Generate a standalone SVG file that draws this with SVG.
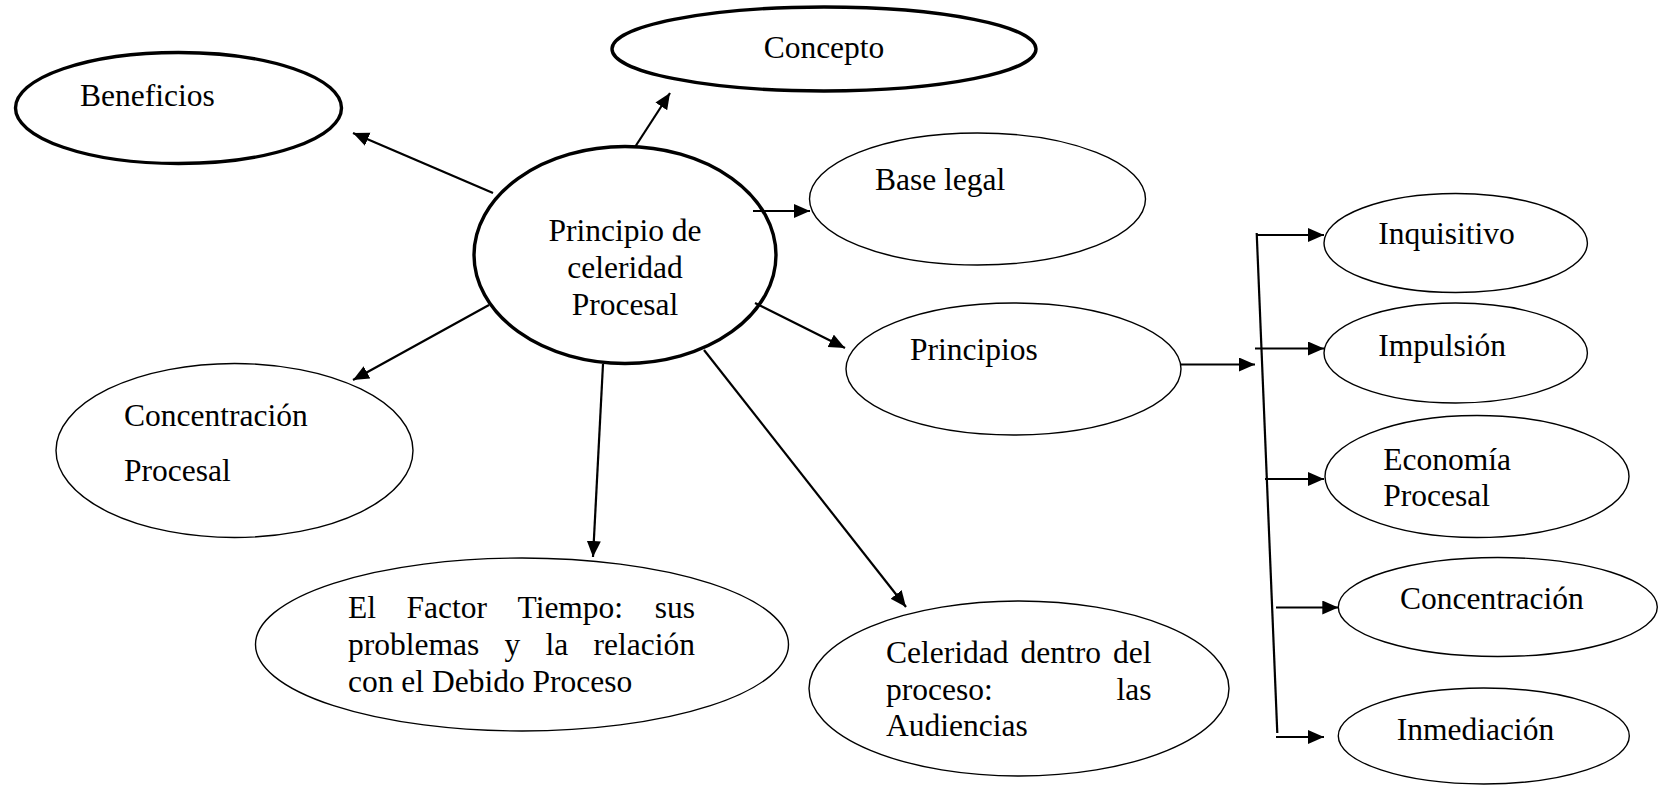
<svg xmlns="http://www.w3.org/2000/svg" width="1664" height="785" viewBox="0 0 1664 785">
<style>
.thick{fill:#fff;stroke:#000;stroke-width:3.4}
.thin{fill:#fff;stroke:#000;stroke-width:1.4}
.conn{fill:none;stroke:#000;stroke-width:2.2}
.arr{marker-end:url(#ah)}
text{font-family:"Liberation Serif","Times New Roman",serif;font-size:31.5px;fill:#000}
</style>
<defs>
<marker id="ah" markerUnits="userSpaceOnUse" markerWidth="17" markerHeight="15" refX="16" refY="7" orient="auto" viewBox="0 0 17 15">
<path d="M0,0 L16,7 L0,14 z" fill="#000"/>
</marker>
</defs>
<rect width="1664" height="785" fill="#fff"/>

<g id="n-concepto">
<ellipse class="thick" cx="824" cy="49" rx="212" ry="42"/>
<text x="824" y="58" text-anchor="middle">Concepto</text>
</g>
<g id="n-beneficios">
<ellipse class="thick" cx="178.5" cy="108" rx="163" ry="55.5"/>
<text x="80" y="106">Beneficios</text>
</g>
<g id="n-baselegal">
<ellipse class="thin" cx="977.5" cy="199" rx="168" ry="66"/>
<text x="875" y="190">Base legal</text>
</g>
<g id="n-principios">
<ellipse class="thin" cx="1013.5" cy="369" rx="167.5" ry="66"/>
<text x="910" y="360">Principios</text>
</g>
<g id="n-central">
<ellipse class="thick" cx="625" cy="255" rx="151" ry="108.5"/>
<text text-anchor="middle"><tspan x="625" y="241">Principio de</tspan><tspan x="625" y="278">celeridad</tspan><tspan x="625" y="315">Procesal</tspan></text>
</g>
<g id="n-concentracion-procesal">
<ellipse class="thin" cx="234.5" cy="450.5" rx="178.5" ry="87"/>
<text><tspan x="124" y="426">Concentración</tspan><tspan x="124" y="481">Procesal</tspan></text>
</g>
<g id="n-factor-tiempo">
<ellipse class="thin" cx="522" cy="644.5" rx="266.5" ry="86.5"/>
<text><tspan x="348" y="618">El</tspan><tspan x="406.5" y="618">Factor</tspan><tspan x="517.5" y="618">Tiempo:</tspan><tspan x="654.8" y="618">sus</tspan><tspan x="348" y="655">problemas</tspan><tspan x="504.5" y="655">y</tspan><tspan x="545.5" y="655">la</tspan><tspan x="593.5" y="655">relación</tspan><tspan x="348" y="692">con el Debido Proceso</tspan></text>
</g>
<g id="n-celeridad-proceso">
<ellipse class="thin" cx="1019" cy="688.5" rx="210" ry="87.5"/>
<text><tspan x="886" y="663">Celeridad</tspan><tspan x="1020.5" y="663">dentro</tspan><tspan x="1113" y="663">del</tspan><tspan x="886" y="700">proceso:</tspan><tspan x="1116.5" y="700">las</tspan><tspan x="886" y="736">Audiencias</tspan></text>
</g>
<g id="n-inquisitivo">
<ellipse class="thin" cx="1455.7" cy="243" rx="131.7" ry="49.5"/>
<text x="1378.3" y="243.5">Inquisitivo</text>
</g>
<g id="n-impulsion">
<ellipse class="thin" cx="1455.7" cy="353" rx="131.7" ry="50"/>
<text x="1378.3" y="355.5">Impulsión</text>
</g>
<g id="n-economia">
<ellipse class="thin" cx="1477" cy="476.5" rx="152" ry="61"/>
<text><tspan x="1383.3" y="470">Economía</tspan><tspan x="1383.3" y="506">Procesal</tspan></text>
</g>
<g id="n-concentracion">
<ellipse class="thin" cx="1497.8" cy="607" rx="159.5" ry="49.5"/>
<text x="1400" y="609">Concentración</text>
</g>
<g id="n-inmediacion">
<ellipse class="thin" cx="1483.8" cy="736" rx="145.5" ry="48"/>
<text x="1396.7" y="740">Inmediación</text>
</g>

<g id="connectors">
<line class="conn arr" x1="635" y1="147" x2="670" y2="93"/>
<line class="conn arr" x1="493" y1="193" x2="353" y2="133"/>
<line class="conn arr" x1="753" y1="211" x2="810" y2="211"/>
<line class="conn arr" x1="755" y1="303" x2="845" y2="348"/>
<line class="conn arr" x1="489" y1="305" x2="353" y2="380"/>
<line class="conn arr" x1="603" y1="364" x2="593" y2="557"/>
<line class="conn arr" x1="704" y1="350" x2="906" y2="607"/>
<line class="conn arr" x1="1181" y1="364.5" x2="1255" y2="364.5"/>
<line class="conn" x1="1256.7" y1="233" x2="1277.3" y2="733"/>
<line class="conn arr" x1="1256.7" y1="235" x2="1324" y2="235"/>
<line class="conn arr" x1="1255" y1="348.5" x2="1324" y2="348.5"/>
<line class="conn arr" x1="1265" y1="479" x2="1324" y2="479"/>
<line class="conn arr" x1="1276" y1="607.5" x2="1338.3" y2="607.5"/>
<line class="conn arr" x1="1276" y1="737" x2="1324" y2="737"/>
</g>
</svg>
